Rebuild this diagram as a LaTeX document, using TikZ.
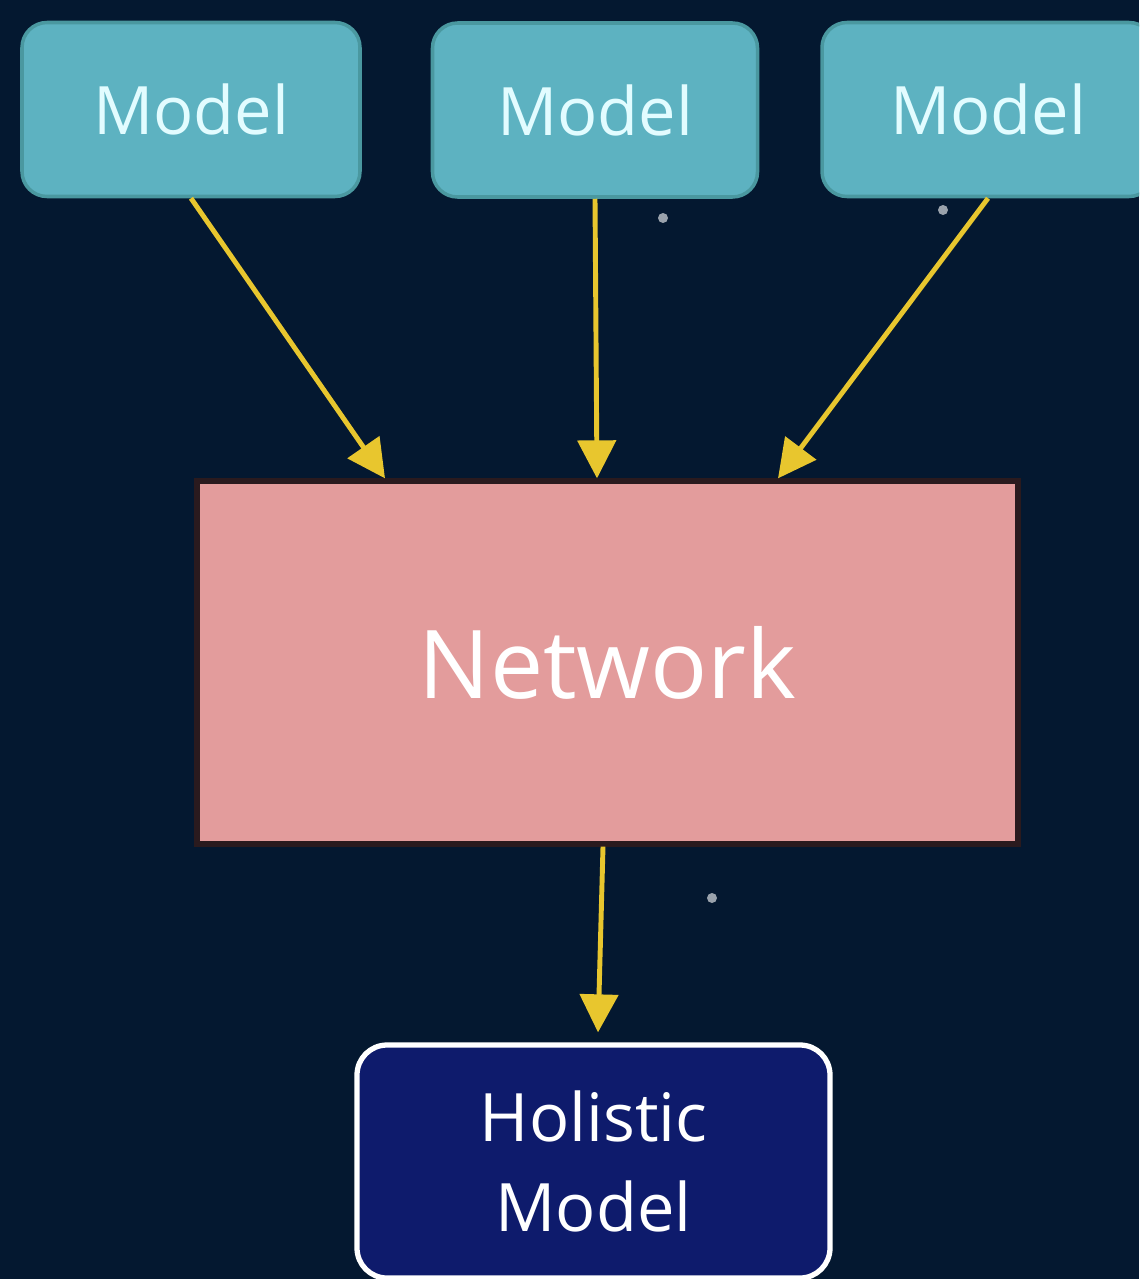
\documentclass[tikz,border=0pt]{standalone}
\usepackage{fontspec}
\setmainfont{Open Sans}
\usetikzlibrary{arrows.meta}
\definecolor{fond}{HTML}{041830}
\definecolor{sarcelle}{HTML}{5DB2C1}
\definecolor{sarcelleBord}{HTML}{4A98A0}
\definecolor{texteModele}{HTML}{E2FCFF}
\definecolor{rose}{HTML}{E39C9C}
\definecolor{roseBord}{HTML}{2A1A1E}
\definecolor{bleuNuit}{HTML}{0E1B6C}
\definecolor{jaune}{HTML}{E8C62E}
\tikzstyle{modele} = [draw=sarcelleBord, fill=sarcelle, rounded corners=0.25cm, line width=1pt, text=texteModele, font=\fontsize{19}{22}\selectfont, minimum height=1.74cm]
\tikzstyle{reseau} = [draw=roseBord, fill=rose, line width=1.5pt, text=white, font=\fontsize{27}{30}\selectfont, minimum width=8.21cm, minimum height=3.63cm]
\tikzstyle{holiste} = [draw=white, fill=bleuNuit, rounded corners=0.3cm, line width=1.5pt, text=white, align=center, font=\fontsize{19}{25.6}\selectfont, minimum width=4.73cm, minimum height=2.33cm]
\tikzstyle{fleche} = [-{Triangle[length=0.38cm,width=0.38cm]}, draw=jaune, fill=jaune, line width=1.4pt]

\begin{document}
\begin{tikzpicture}
	\useasboundingbox (0,0) rectangle (11.39,-12.79);
	\clip (0,0) rectangle (11.39,-12.79);
	\fill[fond] (0,0) rectangle (11.39,-12.79);

	% stars
	\fill[white, opacity=0.6] (6.63,-2.18) circle (0.05);
	\fill[white, opacity=0.6] (9.43,-2.10) circle (0.05);
	\fill[white, opacity=0.6] (7.12,-8.98) circle (0.05);

	\node[modele, minimum width=3.38cm] (M1) at (1.91,-1.095) {Model};
	\node[modele, minimum width=3.25cm] (M2) at (5.95,-1.10) {Model};
	\node[modele, minimum width=3.32cm] (M3) at (9.88,-1.095) {Model};

	\node[reseau] (N) at (6.075,-6.625) {Network};

	\node[holiste] (HM) at (5.935,-11.615) {Holistic\\Model};

	\draw[fleche] (M1.south) -- ([xshift=-2.225cm]N.north);
	\draw[fleche] (M2.south) -- ([xshift=-0.105cm]N.north);
	\draw[fleche] (M3.south) -- ([xshift=1.705cm]N.north);
	\draw[fleche] ([xshift=-0.045cm]N.south) -- ([xshift=0.045cm,yshift=0.1cm]HM.north);

\end{tikzpicture}
\end{document}
